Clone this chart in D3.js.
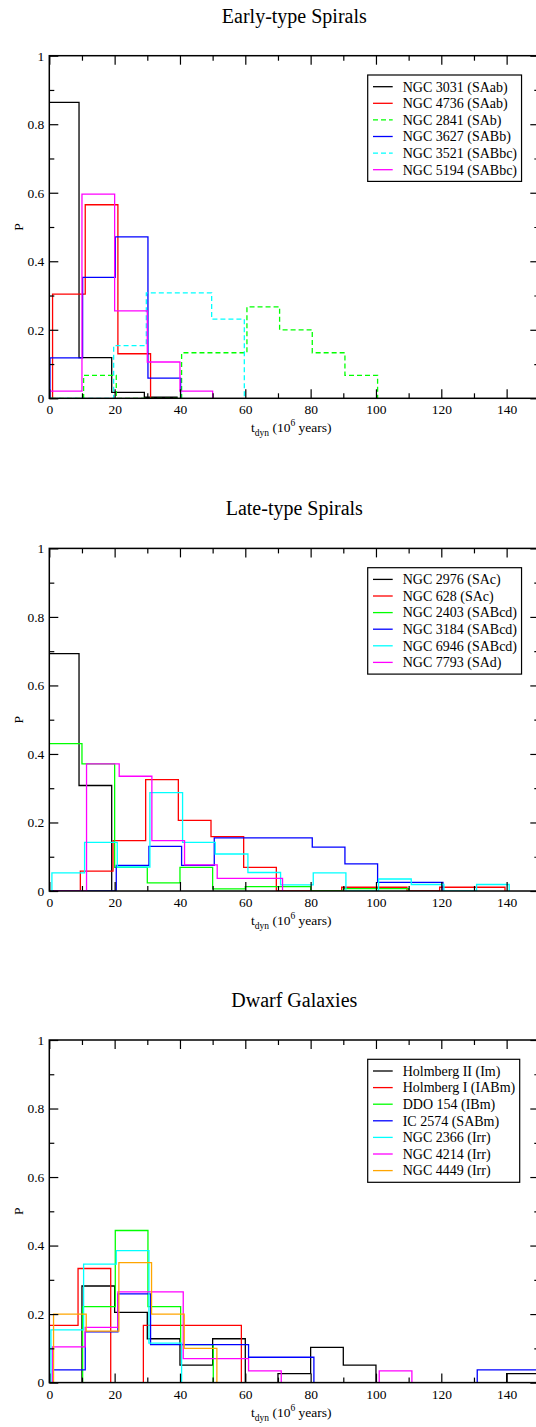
<!DOCTYPE html>
<html><head><meta charset="utf-8">
<script src="https://cdn.jsdelivr.net/npm/d3@7"></script>
<style>
body{margin:0;background:#fff}
svg{display:block}
text{font-family:"Liberation Serif","Times New Roman",serif;fill:#000}
</style>
</head><body>
<svg id="chart" width="536" height="1427"></svg>
<script>
// ---------- DATA ----------
const binWidth = 10;                       // 10^6 years per bin
const xTicks = [0, 20, 40, 60, 80, 100, 120, 140];
const xMinorTicks = [10, 30, 50, 70, 90, 110, 130];
const yTicks = [0, 0.2, 0.4, 0.6, 0.8, 1];
const yMinorTicks = [0.1, 0.3, 0.5, 0.7, 0.9];
const panelTitles = ["Early-type Spirals", "Late-type Spirals", "Dwarf Galaxies"];

// Early-type spirals
const earlyNames = ["NGC 3031 (SAab)", "NGC 4736 (SAab)", "NGC 2841 (SAb)", "NGC 3627 (SABb)", "NGC 3521 (SABbc)", "NGC 5194 (SABbc)"];
const earlyShift = [-0.9, 1, 0.5, 0.2, -0.3, 0];   // bin-edge shift of each histogram
const earlyValues = [
  [0.864, 0.119, 0.0175, 0.003],
  [0.304, 0.565, 0.130],
  [0, 0.067, 0, 0, 0.133, 0.133, 0.267, 0.200, 0.133, 0.067],
  [0.118, 0.353, 0.471, 0.059],
  [0, 0, 0.154, 0.308, 0.308, 0.231],
  [0.021, 0.596, 0.255, 0.106, 0.021]
];

// Late-type spirals
const lateNames = ["NGC 2976 (SAc)", "NGC 628 (SAc)", "NGC 2403 (SABcd)", "NGC 3184 (SABcd)", "NGC 6946 (SABcd)", "NGC 7793 (SAd)"];
const lateShift = [-0.9, -0.5, 0, 0.5, 0.8, 1.4];
const lateValues = [
  [0.693, 0.308],
  [0, 0.058, 0.147, 0.325, 0.206, 0.159, 0.069, 0, 0, 0.011, 0.011, 0, 0.011, 0.011],
  [0.430, 0.371, 0.069, 0.024, 0.069, 0.006, 0.013, 0.013, 0, 0.007, 0.007],
  [0, 0, 0.075, 0.130, 0.075, 0.155, 0.155, 0.155, 0.128, 0.079, 0.025, 0.025],
  [0.053, 0.142, 0.070, 0.287, 0.142, 0.108, 0.054, 0.018, 0.053, 0, 0.035, 0.019, 0, 0.019],
  [0, 0.371, 0.335, 0.147, 0.076, 0.037, 0.037]
];

// Dwarf galaxies
const dwarfNames = ["Holmberg II (Im)", "Holmberg I (IABm)", "DDO 154 (IBm)", "IC 2574 (SABm)", "NGC 2366 (Irr)", "NGC 4214 (Irr)", "NGC 4449 (Irr)"];
const dwarfShift = [0, -1.2, 0.2, 1, 0.5, 1, 1.3];
const dwarfValues = [
  [0, 0.282, 0.205, 0.128, 0.051, 0.128, 0, 0.026, 0.103, 0.051, 0, 0, 0, 0, 0.026],
  [0.167, 0.333, 0, 0.167, 0.167, 0.167],
  [0, 0.222, 0.444, 0.222, 0.111],
  [0.037, 0.148, 0.259, 0.111, 0.111, 0.111, 0.074, 0.074, 0, 0, 0, 0, 0, 0.037, 0.037],
  [0.154, 0.346, 0.385, 0.115],
  [0.104, 0.161, 0.265, 0.265, 0.070, 0.070, 0.034, 0, 0, 0, 0.034],
  [0.200, 0.150, 0.350, 0.200, 0.100]
];

// ---------- STYLE ----------
const earlyColors = ["#000000", "#ff0000", "#00ff00", "#0000ff", "#00ffff", "#ff00ff"];
const earlyDash = [null, null, "5,3", null, "5,3", null];
const lateColors = ["#000000", "#ff0000", "#00ff00", "#0000ff", "#00ffff", "#ff00ff"];
const lateDash = [null, null, null, null, null, null];
const dwarfColors = ["#000000", "#ff0000", "#00ff00", "#0000ff", "#00ffff", "#ff00ff", "#ffa500"];
const dwarfDash = [null, null, null, null, null, null, null];

const panels = [
  {title: panelTitles[0], names: earlyNames, shift: earlyShift, values: earlyValues, colors: earlyColors, dash: earlyDash},
  {title: panelTitles[1], names: lateNames, shift: lateShift, values: lateValues, colors: lateColors, dash: lateDash},
  {title: panelTitles[2], names: dwarfNames, shift: dwarfShift, values: dwarfValues, colors: dwarfColors, dash: dwarfDash}
];

// ---------- LAYOUT ----------
const FONT = '"Liberation Serif","Times New Roman",Times,serif';
const left = 49.3, plotW = 490, plotH = 342.6;
const tops = [55.7, 548.4, 1040];
const tickFont = 13.5, legendFont = 14, titleFont = 20;

const svg = d3.select("#chart");
const x = d3.scaleLinear().domain([0, 150]).range([0, plotW]);
const y = d3.scaleLinear().domain([0, 1]).range([plotH, 0]);
const fmtY = d => String(+(+d).toFixed(1));

panels.forEach((p, pi) => {
  const g = svg.append("g").attr("transform", `translate(${left},${tops[pi]})`)
    .attr("font-family", FONT);
  const clipId = "clip" + pi;
  g.append("clipPath").attr("id", clipId).append("rect")
    .attr("x", 0).attr("y", -2).attr("width", plotW).attr("height", plotH + 2);

  // title
  g.append("text").attr("x", plotW / 2).attr("y", -33)
    .attr("text-anchor", "middle").style("font-family", FONT)
    .style("font-size", titleFont + "px").text(p.title);

  // histograms
  const line = d3.line().x(d => x(d[0])).y(d => y(d[1])).curve(d3.curveStepAfter);
  const lines = g.append("g").attr("clip-path", `url(#${clipId})`);
  p.values.forEach((vals, si) => {
    const s = p.shift[si];
    const pts = [[s, 0]];
    vals.forEach((v, i) => pts.push([i * binWidth + s, v]));
    const end = vals.length * binWidth + s;
    pts.push([end, vals[vals.length - 1]]);
    pts.push([end, 0]);
    lines.append("path").attr("d", line(pts))
      .attr("fill", "none").attr("stroke", p.colors[si]).attr("stroke-width", 1.3)
      .attr("stroke-dasharray", p.dash[si]);
  });

  // axes (inward ticks)
  const axisStyle = sel => {
    sel.attr("font-family", FONT);
    sel.select(".domain").remove();
    sel.selectAll("line").attr("stroke", "#000").attr("stroke-width", 1.2);
    sel.selectAll("text").style("font-size", tickFont + "px")
      .style("font-family", FONT).attr("fill", "#000");
  };
  g.append("g").attr("transform", `translate(0,${plotH})`)
    .call(d3.axisBottom(x).tickValues(xTicks).tickSize(-9).tickPadding(6.5).tickFormat(d3.format("d"))).call(axisStyle);
  g.append("g").attr("transform", `translate(0,${plotH})`)
    .call(d3.axisBottom(x).tickValues(xMinorTicks).tickSize(-5).tickFormat("")).call(axisStyle);
  g.append("g").call(d3.axisTop(x).tickValues(xTicks).tickSize(-9).tickFormat("")).call(axisStyle);
  g.append("g").call(d3.axisTop(x).tickValues(xMinorTicks).tickSize(-5).tickFormat("")).call(axisStyle);
  g.append("g").call(d3.axisLeft(y).tickValues(yTicks).tickSize(-9).tickPadding(5).tickFormat(fmtY)).call(axisStyle);
  g.append("g").call(d3.axisLeft(y).tickValues(yMinorTicks).tickSize(-5).tickFormat("")).call(axisStyle);
  g.append("g").attr("transform", `translate(${plotW},0)`)
    .call(d3.axisRight(y).tickValues(yTicks).tickSize(-9).tickFormat("")).call(axisStyle);
  g.append("g").attr("transform", `translate(${plotW},0)`)
    .call(d3.axisRight(y).tickValues(yMinorTicks).tickSize(-5).tickFormat("")).call(axisStyle);

  // frame
  g.append("rect").attr("x", 0).attr("y", 0).attr("width", plotW).attr("height", plotH)
    .attr("fill", "none").attr("stroke", "#000").attr("stroke-width", 1.5);

  // y label
  g.append("text").attr("transform", `translate(${23 - left},${plotH / 2}) rotate(-90)`)
    .attr("text-anchor", "middle").style("font-family", FONT)
    .style("font-size", tickFont + "px").text("P");

  // x label
  const xl = g.append("text").attr("x", plotW / 2 - 3).attr("y", plotH + 34)
    .attr("text-anchor", "middle").style("font-family", FONT).style("font-size", tickFont + "px");
  xl.append("tspan").text("t");
  xl.append("tspan").attr("dy", 4).style("font-size", "9.5px").text("dyn");
  xl.append("tspan").attr("dy", -4).text(" (10");
  xl.append("tspan").attr("dy", -6).style("font-size", "9.5px").text("6");
  xl.append("tspan").attr("dy", 6).text(" years)");

  // legend
  const rowH = 16.6;
  const lg = g.append("g").attr("transform", `translate(${367.7 - left},19.3)`);
  const box = lg.append("rect").attr("fill", "#fff").attr("stroke", "#000").attr("stroke-width", 1.2);
  let maxW = 0;
  p.names.forEach((nm, i) => {
    const cy = 11.7 + i * rowH;
    lg.append("line").attr("x1", 5.3).attr("x2", 25).attr("y1", cy).attr("y2", cy)
      .attr("stroke", p.colors[i]).attr("stroke-width", 1.3).attr("stroke-dasharray", p.dash[i]);
    const t = lg.append("text").attr("x", 35).attr("y", cy + 4.8)
      .style("font-family", FONT).style("font-size", legendFont + "px").text(nm);
    maxW = Math.max(maxW, t.node().getComputedTextLength());
  });
  box.attr("x", 0).attr("y", 0).attr("width", 35 + maxW + 4.5)
    .attr("height", 11.7 * 2 + (p.names.length - 1) * rowH);
});
</script>
</body></html>
